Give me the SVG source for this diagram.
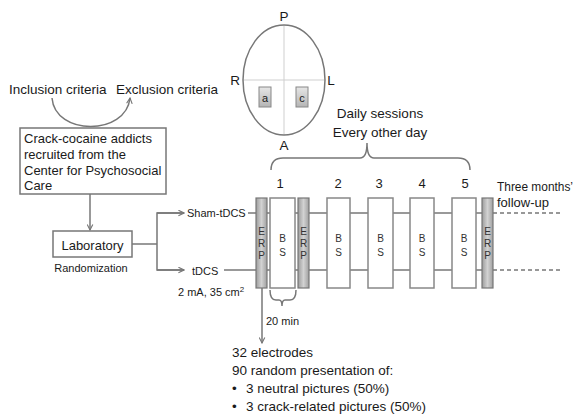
<svg xmlns="http://www.w3.org/2000/svg" width="579" height="418" viewBox="0 0 579 418">
<style>
text{font-family:"Liberation Sans",Arial,sans-serif;fill:#1a1a1a}
.t13{font-size:13px}
.t14{font-size:13.5px}
.t11{font-size:11px}
.sm{font-size:10px;fill:#333}
.ln{stroke:#777;stroke-width:1.5;fill:none}
.bx{fill:#fff;stroke:#777;stroke-width:1.5}
.bs{fill:#fff;stroke:#888;stroke-width:1.5}
.erp{fill:url(#gErp);stroke:#777;stroke-width:1.2}
.dash{stroke:#777;stroke-width:1.5;stroke-dasharray:4 3;fill:none}
</style>
<defs>
<linearGradient id="gErp" x1="0" y1="0" x2="1" y2="0">
<stop offset="0" stop-color="#9c9c9c"/>
<stop offset="0.5" stop-color="#d2d2d2"/>
<stop offset="1" stop-color="#a0a0a0"/>
</linearGradient>
<linearGradient id="gEl" x1="0" y1="0" x2="0" y2="1">
<stop offset="0" stop-color="#e6e6e6"/>
<stop offset="1" stop-color="#b4b4b4"/>
</linearGradient>
<marker id="arr" viewBox="0 0 10 10" refX="9" refY="5" markerWidth="7" markerHeight="7" orient="auto" markerUnits="userSpaceOnUse">
<path d="M1,1 L9,5 L1,9" fill="none" stroke="#777" stroke-width="1.6"/>
</marker>
</defs>
<rect width="579" height="418" fill="#fff"/>

<g id="head">
<line x1="284" y1="25" x2="284" y2="135" stroke="#cfcfcf" stroke-width="1"/>
<line x1="243" y1="80" x2="325" y2="80" stroke="#cfcfcf" stroke-width="1"/>
<ellipse cx="284" cy="80" rx="41" ry="55" fill="none" stroke="#777" stroke-width="1.5"/>
<rect x="259" y="87" width="12" height="20" fill="url(#gEl)" stroke="#888" stroke-width="1"/>
<rect x="296" y="87" width="12" height="20" fill="url(#gEl)" stroke="#888" stroke-width="1"/>
<text x="265" y="101.5" class="t11" text-anchor="middle">a</text>
<text x="302" y="101.5" class="t11" text-anchor="middle">c</text>
<text x="284" y="21" class="t14" text-anchor="middle">P</text>
<text x="235" y="85" class="t14" text-anchor="middle">R</text>
<text x="331" y="85" class="t14" text-anchor="middle">L</text>
<text x="284" y="150" class="t14" text-anchor="middle">A</text>
</g>

<g id="criteria">
<text x="9" y="94" class="t14">Inclusion criteria</text>
<text x="116" y="94" class="t14">Exclusion criteria</text>
</g>

<g id="recruit">
<rect x="20" y="128" width="146" height="66" class="bx"/>
<text x="24" y="143" class="t13">Crack-cocaine addicts</text>
<text x="24" y="159" class="t13">recruited from the</text>
<text x="24" y="175" class="t13">Center for Psychosocial</text>
<text x="24" y="190" class="t13">Care</text>
</g>

<g id="laboratory">
<rect x="53" y="231" width="79" height="26" class="bx"/>
<text x="92.5" y="250" class="t13" text-anchor="middle">Laboratory</text>
<text x="91" y="272" class="t11" text-anchor="middle">Randomization</text>
</g>

<g id="arms">
<text x="187" y="217" class="t11">Sham-tDCS</text>
<text x="192" y="275" class="t11">tDCS</text>
<text x="178" y="296" class="t11">2 mA, 35 cm<tspan dy="-4" font-size="8">2</tspan></text>
</g>

<g id="connectors">
<path d="M52,98 C55,136 126,136 130,98" class="ln" marker-end="url(#arr)"/>
<line x1="90" y1="194" x2="90" y2="230" class="ln" marker-end="url(#arr)"/>
<polyline points="132,244 157,244" class="ln"/>
<polyline points="184,213 157,213 157,270 184,270" class="ln"/>
<line x1="157" y1="213" x2="184" y2="213" class="ln" marker-end="url(#arr)"/>
<line x1="157" y1="270" x2="184" y2="270" class="ln" marker-end="url(#arr)"/>
<line x1="248" y1="213" x2="493" y2="213" class="ln"/>
<line x1="224" y1="270" x2="493" y2="270" class="ln"/>
<line x1="493" y1="213" x2="560" y2="213" class="dash"/>
<line x1="493" y1="270" x2="560" y2="270" class="dash"/>
<line x1="262" y1="288" x2="262" y2="343" class="ln" marker-end="url(#arr)"/>
<path d="M271,170 Q271,158 283,158 L360,158 Q367,158 367,143 Q367,158 374,158 L458,158 Q470,158 470,170" class="ln"/>
<path d="M270,290 Q270,300 276,300 L279,300 Q282,300 282,306 Q282,300 285,300 L290,300 Q296,300 296,290" class="ln"/>
</g>

<g id="sessions">
<text x="380" y="118" class="t14" text-anchor="middle">Daily sessions</text>
<text x="380" y="137" class="t14" text-anchor="middle">Every other day</text>
<text x="280" y="188" class="t13" text-anchor="middle">1</text>
<text x="338" y="188" class="t13" text-anchor="middle">2</text>
<text x="379" y="188" class="t13" text-anchor="middle">3</text>
<text x="422" y="188" class="t13" text-anchor="middle">4</text>
<text x="465" y="188" class="t13" text-anchor="middle">5</text>
<text x="497" y="191" font-size="12" textLength="76" lengthAdjust="spacingAndGlyphs">Three months’</text>
<text x="497" y="207" class="t13">follow-up</text>
</g>

<g id="erp1"><rect x="256" y="198" width="11" height="90" class="erp"/>
<text x="261.5" y="235" class="sm" text-anchor="middle">E</text><text x="261.5" y="247" class="sm" text-anchor="middle">R</text><text x="261.5" y="259" class="sm" text-anchor="middle">P</text></g>
<g id="bs1"><rect x="270" y="198" width="25" height="90" class="bs"/>
<text x="282.5" y="242" class="sm" text-anchor="middle">B</text><text x="282.5" y="256" class="sm" text-anchor="middle">S</text></g>
<g id="erp2"><rect x="298" y="198" width="11" height="90" class="erp"/>
<text x="303.5" y="235" class="sm" text-anchor="middle">E</text><text x="303.5" y="247" class="sm" text-anchor="middle">R</text><text x="303.5" y="259" class="sm" text-anchor="middle">P</text></g>
<g id="bs2"><rect x="327" y="198" width="23" height="90" class="bs"/>
<text x="338.5" y="242" class="sm" text-anchor="middle">B</text><text x="338.5" y="256" class="sm" text-anchor="middle">S</text></g>
<g id="bs3"><rect x="368" y="198" width="25" height="90" class="bs"/>
<text x="380.5" y="242" class="sm" text-anchor="middle">B</text><text x="380.5" y="256" class="sm" text-anchor="middle">S</text></g>
<g id="bs4"><rect x="410" y="198" width="24" height="90" class="bs"/>
<text x="422" y="242" class="sm" text-anchor="middle">B</text><text x="422" y="256" class="sm" text-anchor="middle">S</text></g>
<g id="bs5"><rect x="452" y="198" width="24" height="90" class="bs"/>
<text x="464" y="242" class="sm" text-anchor="middle">B</text><text x="464" y="256" class="sm" text-anchor="middle">S</text></g>
<g id="erp3"><rect x="482" y="198" width="11" height="90" class="erp"/>
<text x="487.5" y="235" class="sm" text-anchor="middle">E</text><text x="487.5" y="247" class="sm" text-anchor="middle">R</text><text x="487.5" y="259" class="sm" text-anchor="middle">P</text></g>

<g id="erp-details">
<text x="266" y="325" class="t11">20 min</text>
<text x="232" y="357" class="t14">32 electrodes</text>
<text x="232" y="375" class="t14">90 random presentation of:</text>
<text x="232" y="393" class="t14">•</text>
<text x="246" y="393" class="t14">3 neutral pictures (50%)</text>
<text x="232" y="411" class="t14">•</text>
<text x="246" y="411" class="t14">3 crack-related pictures (50%)</text>
</g>
</svg>
